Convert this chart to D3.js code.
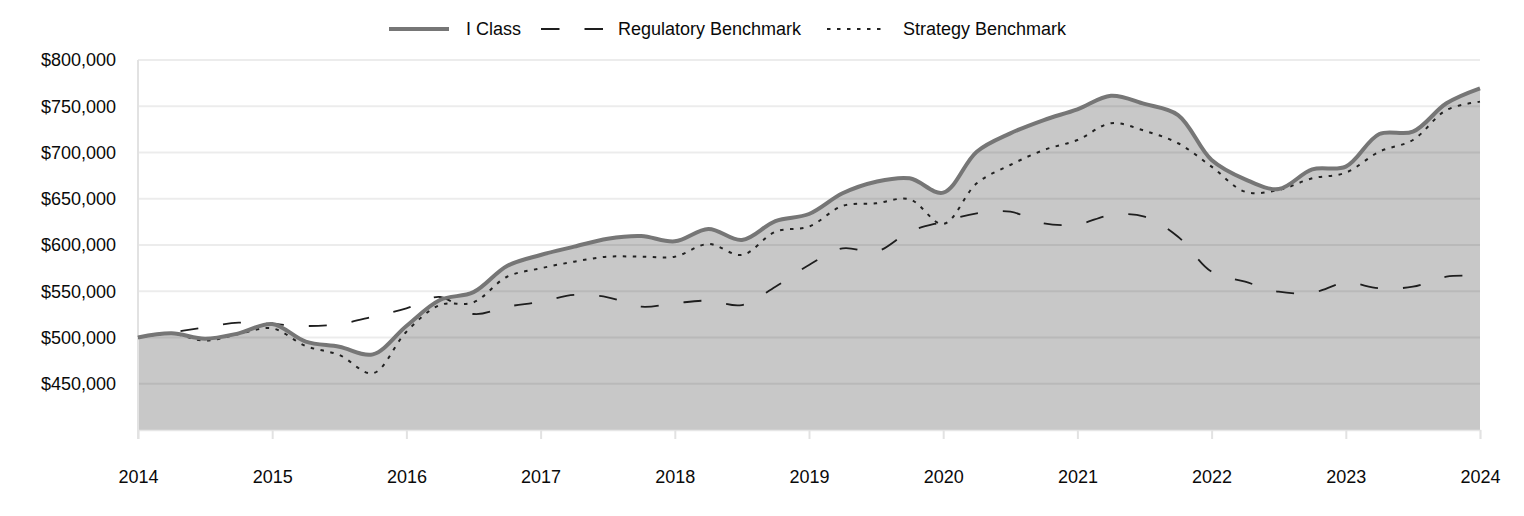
<!DOCTYPE html>
<html>
<head>
<meta charset="utf-8">
<script src="https://cdn.jsdelivr.net/npm/d3@7"></script>
<style>
  body { margin: 0; background: #fff; }
  svg { display: block; font-family: "Liberation Sans", Arial, sans-serif; }
</style>
</head>
<body>
<svg id="chart" width="1524" height="516"></svg>
<script>
// Quarterly observation points, expressed in years
const quarters = d3.range(0, 41).map(i => 2014 + i / 4);

const iClass = [
  500000, 504500, 498700, 504500, 514600, 495500, 490000, 481800, 512400, 540500,
  549000, 577300, 589200, 598200, 606800, 609700, 604000, 617300, 605400, 625900,
  633500, 655900, 668400, 672100, 656600, 700900, 720700, 735100, 746700, 761400,
  752500, 740500, 691900, 671000, 660500, 681800, 684700, 720000, 722500, 753200,
  769400
];

const regulatory = [
  500000, 505500, 511000, 516000, 514600, 512400, 514600, 522500, 531600, 543800,
  525400, 533300, 538700, 546000, 543500, 533300, 537000, 539800, 535100, 554900,
  578400, 596400, 592800, 614400, 625200, 634300, 636000, 623400, 622300, 632400,
  630600, 609000, 571100, 560300, 549500, 548400, 559200, 553200, 554900, 565700,
  566500
];

const strategy = [
  500000, 504000, 496600, 503800, 509900, 490800, 481100, 461300, 506300, 535100,
  538000, 565700, 574800, 582000, 587400, 587400, 587400, 601100, 589200, 614400,
  619900, 642200, 645100, 649400, 622700, 666700, 686500, 702700, 713500, 731600,
  723500, 710000, 684700, 657600, 659500, 672100, 678200, 700900, 713500, 745900,
  755000
];

const yearTicks = d3.range(2014, 2025);
const yTicks = [450000, 500000, 550000, 600000, 650000, 700000, 750000, 800000];
const seriesNames = ["I Class", "Regulatory Benchmark", "Strategy Benchmark"];

const svg = d3.select("#chart");
const x = d3.scaleLinear().domain([2014, 2024]).range([138, 1480]);
const y = d3.scaleLinear().domain([400000, 800000]).range([430, 60]);

const fmt = v => "$" + d3.format(",")(v);
const curve = d3.curveCatmullRom.alpha(0.5);

// Area under I Class
const area = d3.area()
  .x((d, i) => x(quarters[i]))
  .y0(y(400000))
  .y1(d => y(d))
  .curve(curve);

svg.append("path")
  .datum(iClass)
  .attr("d", area)
  .attr("fill", "#c8c8c8");

// Gridlines
svg.append("g")
  .selectAll("line")
  .data(yTicks)
  .join("line")
  .attr("x1", x(2014)).attr("x2", x(2024))
  .attr("y1", d => y(d)).attr("y2", d => y(d))
  .attr("stroke", "rgba(0,0,0,0.075)")
  .attr("stroke-width", 2);

// Y axis
const yAxis = d3.axisLeft(y).tickValues(yTicks).tickFormat(fmt).tickSize(0).tickPadding(22);
const gy = svg.append("g").attr("transform", `translate(${x(2014)},0)`).call(yAxis);
gy.select(".domain").remove();
gy.selectAll("text").attr("font-size", 18).attr("fill", "#0a0a0a").attr("font-family", "Liberation Sans, Arial, sans-serif");

// Y axis line
svg.append("line")
  .attr("x1", x(2014)).attr("x2", x(2014))
  .attr("y1", y(800000)).attr("y2", 439)
  .attr("stroke", "#e2e2e2").attr("stroke-width", 2);

// X axis
const xAxis = d3.axisBottom(x).tickValues(yearTicks).tickFormat(d3.format("d")).tickSize(9).tickPadding(31);
const gx = svg.append("g").attr("transform", `translate(0,${y(400000)})`).call(xAxis);
gx.select(".domain").attr("stroke", "#e6e6e6").attr("stroke-width", 1.5);
gx.selectAll(".tick line").attr("stroke", "#e2e2e2").attr("stroke-width", 2);
gx.selectAll("text").attr("font-size", 18).attr("fill", "#0a0a0a").attr("font-family", "Liberation Sans, Arial, sans-serif");

// Lines
const line = d3.line()
  .x((d, i) => x(quarters[i]))
  .y(d => y(d))
  .curve(curve);

svg.append("path").datum(regulatory).attr("d", line)
  .attr("fill", "none").attr("stroke", "#1e1e1e").attr("stroke-width", 1.8)
  .attr("stroke-dasharray", "18,25");

svg.append("path").datum(strategy).attr("d", line)
  .attr("fill", "none").attr("stroke", "#222").attr("stroke-width", 2)
  .attr("stroke-dasharray", "3.5,6.5");

svg.append("path").datum(iClass).attr("d", line)
  .attr("fill", "none").attr("stroke", "#767676").attr("stroke-width", 4);

// Legend
const legend = svg.append("g");
const ly = 29;
legend.append("line").attr("x1", 389).attr("x2", 449).attr("y1", ly).attr("y2", ly)
  .attr("stroke", "#767676").attr("stroke-width", 4);
legend.append("text").attr("x", 466).attr("y", ly + 6).text(seriesNames[0]);
legend.append("line").attr("x1", 541).attr("x2", 605).attr("y1", ly).attr("y2", ly)
  .attr("stroke", "#1e1e1e").attr("stroke-width", 1.8).attr("stroke-dasharray", "18.5,25");
legend.append("text").attr("x", 618).attr("y", ly + 6).text(seriesNames[1]);
legend.append("line").attr("x1", 827).attr("x2", 882).attr("y1", ly).attr("y2", ly)
  .attr("stroke", "#222").attr("stroke-width", 2).attr("stroke-dasharray", "3.5,6.5");
legend.append("text").attr("x", 903).attr("y", ly + 6).text(seriesNames[2]);
legend.selectAll("text").attr("font-size", 18).attr("fill", "#0a0a0a");
</script>
</body>
</html>
